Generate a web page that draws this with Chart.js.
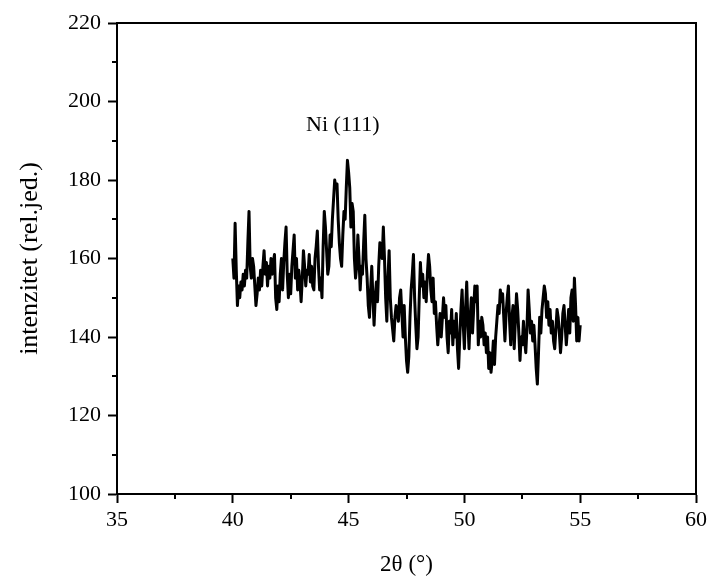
<!DOCTYPE html>
<html>
<head>
<meta charset="utf-8">
<script src="https://cdn.jsdelivr.net/npm/chart.js@4.4.1/dist/chart.umd.min.js"></script>
<style>
  html, body { margin: 0; padding: 0; background: #fff; }
  #wrap { width: 711px; height: 581px; }
</style>
</head>
<body>
<div id="wrap"><canvas id="xrdChart" width="711" height="581"></canvas></div>
<script>
// 2θ scan: start and step of the diffractometer
const twoThetaStart = 40;
const twoThetaStep = 0.05;

// intensities, one array per degree (20 readings each)
const int40 = [160, 155, 169, 157, 148, 153, 150, 154, 152, 156, 153, 157, 155, 164, 172, 158, 155, 160, 158, 153];
const int41 = [148, 151, 155, 152, 157, 153, 158, 162, 156, 159, 153, 158, 155, 160, 156, 159, 161, 150, 147, 153];
const int42 = [149, 156, 160, 152, 159, 164, 168, 156, 150, 156, 151, 158, 162, 166, 155, 160, 152, 157, 154, 149];
const int43 = [155, 162, 158, 153, 157, 156, 161, 154, 158, 153, 152, 160, 163, 167, 158, 152, 155, 150, 163, 172];
const int44 = [168, 162, 156, 158, 166, 163, 170, 175, 180, 178, 179, 170, 164, 160, 158, 166, 172, 170, 178, 185];
const int45 = [182, 178, 168, 174, 172, 160, 155, 158, 166, 160, 152, 158, 156, 164, 171, 160, 155, 148, 145, 152];
const int46 = [158, 150, 143, 150, 154, 149, 158, 164, 162, 160, 168, 160, 150, 144, 155, 162, 150, 145, 142, 139];
const int47 = [145, 148, 146, 144, 150, 152, 146, 140, 148, 140, 134, 131, 135, 145, 152, 156, 161, 150, 143, 137];
const int48 = [140, 150, 159, 153, 156, 150, 154, 149, 156, 161, 158, 152, 149, 155, 146, 149, 143, 138, 142, 146];
const int49 = [140, 145, 150, 145, 148, 140, 136, 144, 141, 147, 138, 144, 140, 146, 137, 132, 140, 147, 152, 143];
const int50 = [137, 147, 154, 144, 137, 145, 150, 141, 147, 153, 149, 153, 138, 144, 140, 145, 143, 138, 141, 136];
const int51 = [140, 132, 136, 131, 134, 139, 133, 140, 144, 148, 146, 152, 149, 151, 145, 139, 146, 150, 153, 144];
const int52 = [138, 145, 148, 137, 144, 151, 147, 141, 134, 140, 138, 144, 139, 136, 142, 152, 147, 141, 144, 139];
const int53 = [143, 138, 132, 128, 136, 145, 141, 147, 150, 153, 151, 145, 149, 143, 147, 141, 144, 139, 137, 142];
const int54 = [147, 145, 141, 136, 140, 146, 148, 143, 138, 142, 147, 141, 150, 152, 144, 155, 148, 139, 145, 139];
const int55 = [143];

const intensity = [].concat(int40, int41, int42, int43, int44, int45, int46, int47,
                            int48, int49, int50, int51, int52, int53, int54, int55);

// axis ticks
const xMinorTicks = [37.5, 42.5, 47.5, 52.5, 57.5];
const yMinorTicks = [110, 130, 150, 170, 190, 210];

// peak label
const peakLabel = "Ni (111)";
const peakLabelAt = [44.75, 194];

const points = intensity.map((v, i) => ({ x: twoThetaStart + i * twoThetaStep, y: v }));

const serif = '"Liberation Serif", "Times New Roman", serif';

// frame on top/right, minor ticks and the peak label
const framePlugin = {
    id: "frame",
    afterDraw(chart) {
        const { ctx, chartArea: a, scales: { x, y } } = chart;
        ctx.save();
        ctx.strokeStyle = "#000";
        ctx.lineWidth = 2;
        ctx.beginPath();
        ctx.moveTo(a.left, a.top);
        ctx.lineTo(a.right, a.top);
        ctx.lineTo(a.right, a.bottom);
        ctx.stroke();

        ctx.beginPath();
        xMinorTicks.forEach(v => {
            const px = Math.round(x.getPixelForValue(v));
            ctx.moveTo(px, a.bottom);
            ctx.lineTo(px, a.bottom + 5);
        });
        yMinorTicks.forEach(v => {
            const py = Math.round(y.getPixelForValue(v));
            ctx.moveTo(a.left, py);
            ctx.lineTo(a.left - 5, py);
        });
        ctx.stroke();

        ctx.fillStyle = "#000";
        ctx.font = "22px " + serif;
        ctx.textAlign = "center";
        ctx.textBaseline = "middle";
        ctx.fillText(peakLabel, x.getPixelForValue(peakLabelAt[0]), y.getPixelForValue(peakLabelAt[1]));
        ctx.restore();
    }
};

const ctx = document.getElementById("xrdChart").getContext("2d");
new Chart(ctx, {
    type: "line",
    data: {
        datasets: [{
            data: points,
            borderColor: "#000",
            borderWidth: 3,
            pointRadius: 0,
            tension: 0,
            borderJoinStyle: "round"
        }]
    },
    options: {
        responsive: false,
        animation: false,
        layout: { padding: { top: 23, right: 14, left: 0, bottom: 0 } },
        plugins: {
            legend: { display: false },
            tooltip: { enabled: false }
        },
        scales: {
            x: {
                type: "linear",
                min: 35,
                max: 60,
                afterFit: s => { s.height = 87; },
                ticks: {
                    stepSize: 5,
                    color: "#000",
                    padding: 4,
                    maxRotation: 0,
                    font: { family: serif, size: 22 }
                },
                grid: { drawOnChartArea: false, tickLength: 9, tickWidth: 2, tickColor: "#000" },
                border: { color: "#000", width: 2 },
                title: {
                    display: true,
                    text: "2θ (°)",
                    color: "#000",
                    padding: { top: 0, bottom: 2 },
                    font: { family: serif, size: 23 }
                }
            },
            y: {
                min: 100,
                max: 220,
                afterFit: s => { s.width = 117; },
                ticks: {
                    stepSize: 20,
                    color: "#000",
                    padding: 7,
                    font: { family: serif, size: 22 }
                },
                grid: { drawOnChartArea: false, tickLength: 9, tickWidth: 2, tickColor: "#000" },
                border: { color: "#000", width: 2 },
                title: {
                    display: true,
                    text: "intenzitet (rel.jed.)",
                    color: "#000",
                    padding: { top: 15, bottom: 0 },
                    font: { family: serif, size: 26 }
                }
            }
        }
    },
    plugins: [framePlugin]
});
</script>
</body>
</html>
